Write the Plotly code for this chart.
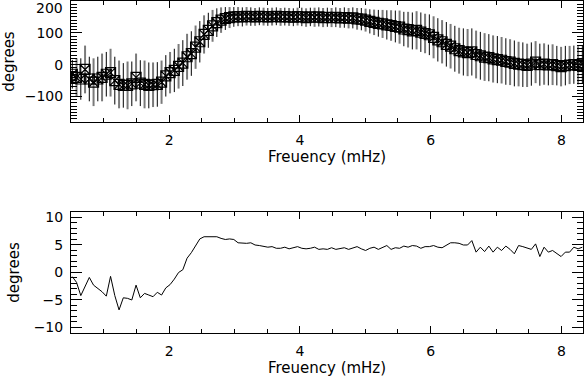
import plotly.graph_objects as go
from plotly.subplots import make_subplots

# frequency grid (mHz)
freq = [0.52, 0.585, 0.65, 0.715, 0.78, 0.845, 0.91, 0.975, 1.04, 1.105,
        1.17, 1.235, 1.30, 1.365, 1.43, 1.495, 1.56, 1.625, 1.69, 1.755,
        1.82, 1.885, 1.95, 2.015, 2.08, 2.145, 2.21, 2.275, 2.34, 2.405,
        2.47, 2.535, 2.60, 2.665, 2.73, 2.795, 2.86, 2.925, 2.99, 3.055,
        3.12, 3.185, 3.25, 3.315, 3.38, 3.445, 3.51, 3.575, 3.64, 3.705,
        3.77, 3.835, 3.90, 3.965, 4.03, 4.095, 4.16, 4.225, 4.29, 4.355,
        4.42, 4.485, 4.55, 4.615, 4.68, 4.745, 4.81, 4.875, 4.94, 5.005,
        5.07, 5.135, 5.20, 5.265, 5.33, 5.395, 5.46, 5.525, 5.59, 5.655,
        5.72, 5.785, 5.85, 5.915, 5.98, 6.045, 6.11, 6.175, 6.24, 6.305,
        6.37, 6.435, 6.50, 6.565, 6.63, 6.695, 6.76, 6.825, 6.89, 6.955,
        7.02, 7.085, 7.15, 7.215, 7.28, 7.345, 7.41, 7.475, 7.54, 7.605,
        7.67, 7.735, 7.80, 7.865, 7.93, 7.995, 8.06, 8.125, 8.19, 8.255,
        8.32]

# top panel: phase (degrees) and its error
phase = [-30, -40, -45, -15, -45, -55, -45, -40, -30, -25,
         -50, -62, -65, -65, -60, -40, -58, -62, -65, -63,
         -62, -55, -35, -25, -18, -5, 5, 25, 35, 55,
         72, 95, 108, 122, 132, 140, 145, 148, 150, 151,
         150, 152, 151, 150, 152, 151, 150, 151, 152, 150,
         151, 150, 149, 151, 150, 148, 150, 149, 150, 148,
         149, 148, 149, 147, 148, 146, 147, 144, 143, 140,
         136, 133, 130, 128, 125, 123, 120, 118, 112, 110,
         106, 108, 102, 98, 94, 86, 78, 72, 64, 58,
         50, 44, 40, 38, 40, 32, 28, 24, 22, 18,
         16, 14, 10, 8, 4, 2, 0, -2, 2, 8,
         0, 2, -1, 0, -3, -6, -3, -1, 0, -2,
         2]
phase_err = [45, 60, 65, 75, 70, 75, 70, 75, 70, 75,
             75, 75, 70, 75, 70, 75, 72, 75, 72, 70,
             70, 68, 65, 65, 68, 70, 72, 72, 70, 68,
             65, 60, 55, 50, 45, 40, 36, 33, 31, 30,
             30, 29, 29, 28, 28, 28, 28, 28, 28, 28,
             28, 28, 28, 28, 29, 29, 29, 30, 30, 30,
             30, 30, 31, 31, 32, 32, 33, 34, 35, 36,
             38, 40, 42, 44, 46, 48, 50, 52, 54, 56,
             58, 60, 62, 62, 64, 66, 68, 68, 70, 70,
             72, 72, 74, 74, 74, 75, 75, 75, 74, 74,
             74, 73, 73, 72, 72, 70, 70, 68, 68, 66,
             66, 65, 64, 64, 62, 62, 62, 60, 60, 60,
             60]

# bottom panel (degrees)
diff = [-0.75, -1.8, -4.2, -2.5, -0.9, -2.3, -2.9, -3.5, -4.3, -0.7,
        -4.2, -6.8, -4.6, -4.7, -5.0, -2.3, -4.6, -3.8, -4.1, -4.4,
        -3.6, -4.1, -2.8, -2.2, -1.2, 0.0, 0.5, 2.6, 3.6, 4.9,
        6.1, 6.5, 6.5, 6.5, 6.5, 6.2, 6.0, 6.1, 6.0, 5.4,
        5.3, 5.3, 5.4, 5.0, 4.9, 4.7, 4.6, 4.7, 4.4, 4.4,
        4.6, 4.3, 4.5, 4.7, 4.4, 4.3, 4.4, 4.6, 4.2, 4.3,
        4.2, 4.5, 4.2, 4.3, 4.5, 4.2, 4.4, 4.7, 4.3, 4.0,
        4.4, 4.6, 4.2, 4.6, 4.9, 4.2, 4.5, 4.4, 4.8, 4.6,
        4.9, 4.8, 4.4, 4.7, 4.7, 4.9, 4.6, 4.5, 4.9, 5.4,
        5.4, 5.3, 5.0, 5.0, 5.8, 3.7, 4.6, 3.8, 4.8, 3.7,
        4.6, 4.0, 4.8, 4.2, 3.4, 4.9, 4.7, 4.4, 4.2, 5.2,
        2.9, 4.6, 3.7, 4.0, 3.4, 2.9, 3.7, 3.7, 4.6, 4.3,
        4.6]

font_name = "DejaVu Sans"

fig = make_subplots(rows=2, cols=1, vertical_spacing=0.271)

# alternate points: gray error bars and black error bars
for start, color, width in [(1, '#7a7a7a', 2), (0, 'black', 1)]:
    fig.add_trace(go.Scatter(
        x=freq[start::2], y=phase[start::2],
        mode='markers',
        marker=dict(symbol='square-x-open', size=10, color='black', line=dict(width=1.2, color='black')),
        error_y=dict(type='data', array=phase_err[start::2], color=color, thickness=width, width=0),
        showlegend=False), row=1, col=1)

fig.add_trace(go.Scatter(x=freq, y=diff, mode='lines', line=dict(color='black', width=1), showlegend=False), row=2, col=1)

axis_style = dict(showline=True, linecolor='black', linewidth=1, mirror='ticks', automargin=False,
                  showgrid=False, zeroline=False, ticks='inside', tickcolor='black',
                  tickfont=dict(family=font_name, size=14, color='black'))

for r in (1, 2):
    fig.update_xaxes(axis_style, range=[0.5, 8.33], tickvals=[2, 4, 6, 8], ticklen=7,
                     minor=dict(ticks='inside', dtick=0.5, ticklen=4, tickcolor='black'),
                     ticklabelstandoff=5,
                     title=dict(text='Freuency (mHz)', font=dict(family=font_name, size=15, color='black'), standoff=4),
                     row=r, col=1)

fig.update_yaxes(axis_style, range=[-180, 200], tickvals=[-100, 0, 100, 200],
                 ticktext=['\u2212100', '0', '100', ''], ticklen=11,
                 minor=dict(ticks='inside', dtick=10, ticklen=6, tickcolor='black'),
                 ticklabelstandoff=4,
                 title=dict(text='degrees', font=dict(family=font_name, size=15, color='black'), standoff=12),
                 row=1, col=1)
fig.update_yaxes(axis_style, range=[-11, 11], tickvals=[-10, -5, 0, 5, 10],
                 ticktext=['\u221210', '\u22125', '0', '5', '10'], ticklen=11,
                 minor=dict(ticks='inside', dtick=1, ticklen=6, tickcolor='black'),
                 ticklabelstandoff=4,
                 title=dict(text='degrees', font=dict(family=font_name, size=15, color='black'), standoff=10),
                 row=2, col=1)

# the top label sits just inside the window, like the original
fig.add_annotation(text='200', xref='paper', yref='paper', x=-0.012, y=0.98,
                   xanchor='right', yanchor='middle', showarrow=False,
                   font=dict(family=font_name, size=14, color='black'))

fig.update_layout(
    width=584, height=380,
    margin=dict(l=71, r=1, t=1, b=47),
    plot_bgcolor='white', paper_bgcolor='white',
    font=dict(family=font_name, color='black'),
)
fig.update_layout(yaxis_domain=[0.6355, 1.0], yaxis2_domain=[0.0, 0.3645])

# page has a default body margin; drop it so the figure sits at the window corner
fig.write_html("out.html", config={'displayModeBar': False},
               post_script="document.body.style.margin='0';")
